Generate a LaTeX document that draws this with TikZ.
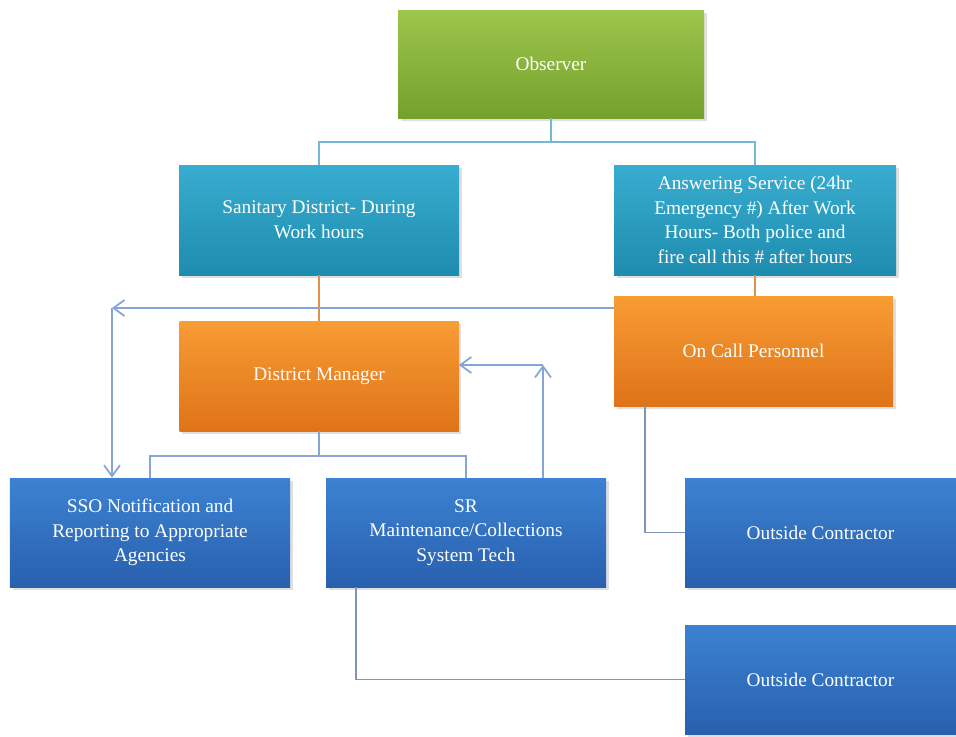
\documentclass[tikz,border=0pt]{standalone}
\usepackage{fontspec}
\setmainfont{Liberation Serif}
\usepackage{tikz}
\usetikzlibrary{positioning}
\usetikzlibrary{arrows.meta}
\usetikzlibrary{shadows}

\definecolor{obsgreenA}{HTML}{9DC64C}
\definecolor{obsgreenB}{HTML}{74A02C}
\definecolor{tealA}{HTML}{38ADD0}
\definecolor{tealB}{HTML}{1E8CAE}
\definecolor{orangeA}{HTML}{F89C34}
\definecolor{orangeB}{HTML}{DF7318}
\definecolor{blueA}{HTML}{3C82D2}
\definecolor{blueB}{HTML}{2860AE}
\definecolor{treeline}{HTML}{74B8D2}
\definecolor{arrowline}{HTML}{86A4D6}
\definecolor{linkline}{HTML}{7F95B8}

\begin{document}
\begin{tikzpicture}[
    box/.style={rectangle, minimum height=2.2cm, text=white, align=center,
        font=\fontsize{11}{14}\selectfont,
        drop shadow={opacity=0.25, shadow xshift=0.05cm, shadow yshift=-0.06cm}},
    greenbox/.style={box, top color=obsgreenA, bottom color=obsgreenB},
    tealbox/.style={box, top color=tealA, bottom color=tealB},
    orangebox/.style={box, top color=orangeA, bottom color=orangeB},
    bluebox/.style={box, top color=blueA, bottom color=blueB},
    tree/.style={draw=treeline, line width=1pt},
    orangeline/.style={draw=orangeB!80, line width=1pt},
    arr/.style={draw=arrowline, line width=1pt, -{Straight Barb[length=2.2mm, width=3.2mm]}},
    link/.style={draw=linkline, line width=1pt}
]
    \useasboundingbox (0,0) rectangle (19.12,-14.72);

    %draw nodes
    \node[greenbox, minimum width=6.12cm, minimum height=2.16cm] (obs) at (11.02,-1.28) {Observer};
    \node[tealbox, minimum width=5.6cm] (san) at (6.38,-4.4) {Sanitary District- During\\Work hours};
    \node[tealbox, minimum width=5.64cm] (ans) at (15.1,-4.4) {Answering Service (24hr\\Emergency \#) After Work\\Hours-  Both police and\\fire call this \# after hours};
    \node[orangebox, minimum width=5.58cm] (dm) at (6.38,-7.52) {District Manager};
    \node[orangebox, minimum width=5.58cm] (oncall) at (15.07,-7.02) {On Call Personnel};
    \node[bluebox, minimum width=5.6cm, minimum height=2.18cm] (sso) at (3.0,-10.65) {SSO Notification and\\Reporting to Appropriate\\Agencies};
    \node[bluebox, minimum width=5.6cm, minimum height=2.18cm] (sr) at (9.32,-10.65) {SR\\Maintenance/Collections\\System Tech};
    \node[bluebox, minimum width=5.42cm, minimum height=2.18cm] (oc1) at (16.41,-10.65) {Outside Contractor};
    \node[bluebox, minimum width=5.42cm, minimum height=2.18cm] (oc2) at (16.41,-13.59) {Outside Contractor};

    %corner points
    \coordinate (c1) at (2.24,-6.16);
    \coordinate (c2) at (10.86,-7.3);
    \coordinate (c3) at (12.9,-10.65);
    \coordinate (c4) at (7.12,-13.59);

    %draw tree lines
    \draw[tree] (obs.south) -- ++(0,-0.48) -| (san.north);
    \draw[tree] (obs.south) -- ++(0,-0.48) -| (ans.north);
    \draw[orangeline] (san.south) -- (san.south |- dm.north);
    \draw[orangeline] (ans.south) -- (ans.south |- oncall.north);
    \draw[arrowline, line width=1pt] (dm.south) -- ++(0,-0.5) -| (sso.north);
    \draw[arrowline, line width=1pt] (dm.south) -- ++(0,-0.5) -| (sr.north);

    %draw arrows
    \draw[arr] (oncall.west |- c1) -- (c1);
    \draw[arr] (c1) -- (c1 |- sso.north);
    \draw[arr] (c2 |- sr.north) -- (c2);
    \draw[arr] (c2) -- (c2 -| dm.east);

    %draw contractor links
    \draw[link] (c3 |- oncall.south) |- (oc1.west);
    \draw[link] (c4 |- sr.south) |- (oc2.west);

\end{tikzpicture}
\end{document}
